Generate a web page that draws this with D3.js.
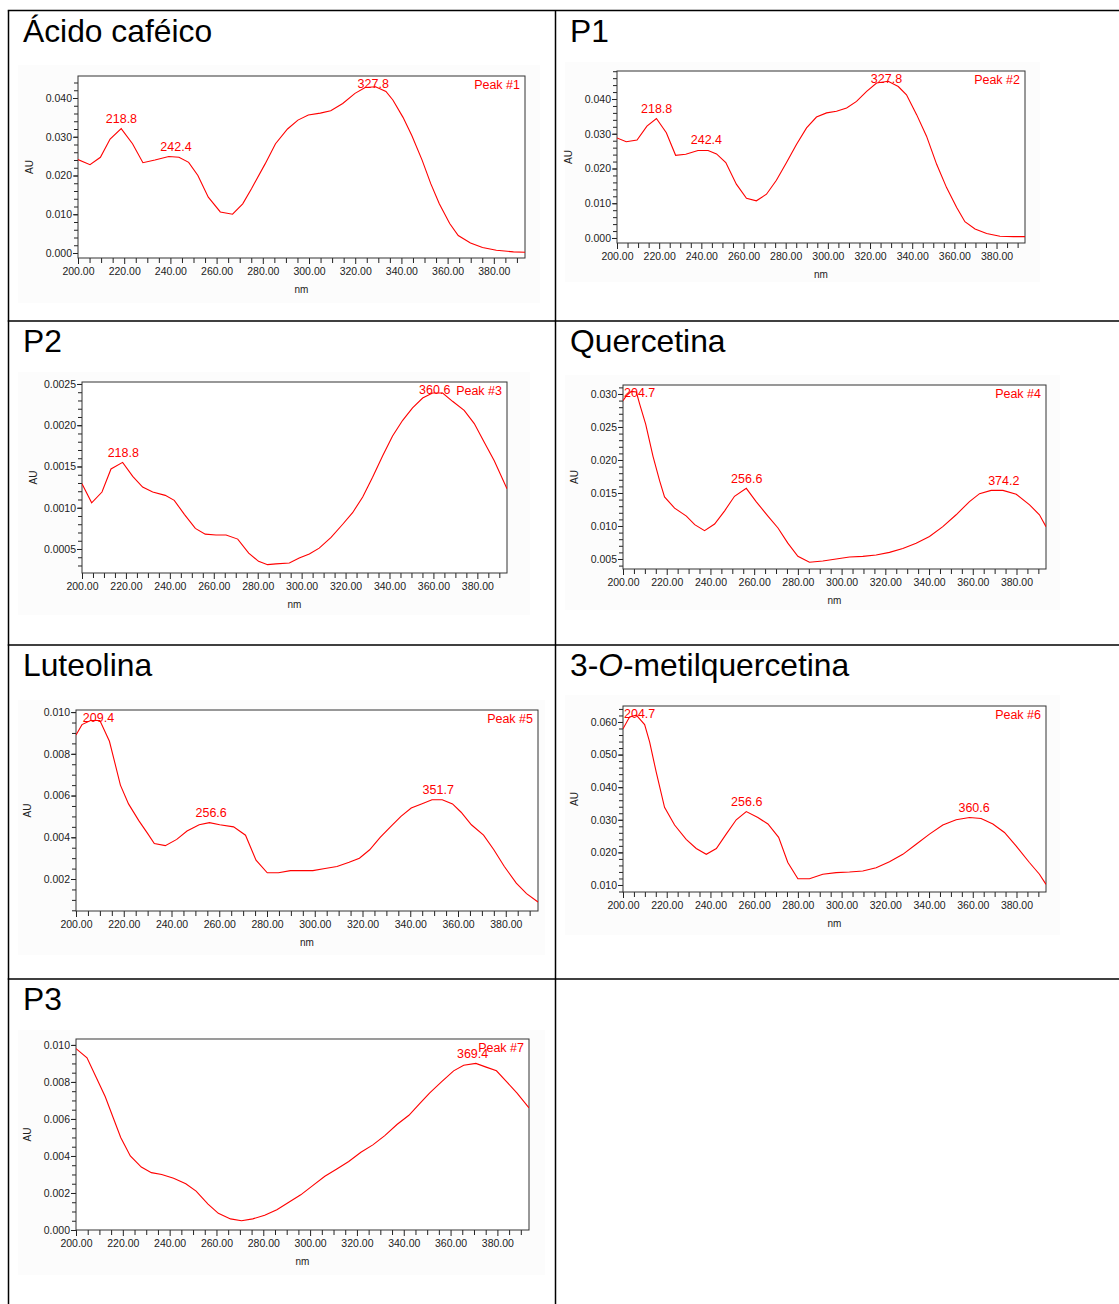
<!DOCTYPE html>
<html><head><meta charset="utf-8">
<script src="https://cdn.jsdelivr.net/npm/d3@7"></script>
<style>body{margin:0;background:#fff} svg{display:block}</style>
</head><body>
<script>
// ---------- DATA ----------
const xTicks = [200, 220, 240, 260, 280, 300, 320, 340, 360, 380];

const acidoCafeico = [[200,0.0241],[205.2,0.0228],[209.7,0.0247],[213.9,0.0294],[218.7,0.0321],[223.6,0.0282],[228.1,0.0233],[233.3,0.0240],[239.3,0.0249],[243.7,0.0247],[247.9,0.0234],[251.9,0.0200],[256.4,0.0144],[261.6,0.0106],[266.9,0.0100],[271.3,0.0127],[275.1,0.0166],[281,0.0230],[285.5,0.0282],[290.7,0.0320],[295.2,0.0343],[299.7,0.0356],[304.9,0.0361],[309.4,0.0367],[314.6,0.0386],[319.9,0.0412],[324.3,0.0427],[328.8,0.0429],[333.3,0.0417],[336.3,0.0395],[340.7,0.0350],[344.5,0.0303],[349,0.0239],[352.7,0.0179],[356.4,0.0127],[360.9,0.0076],[364.6,0.0045],[369.9,0.0026],[375.1,0.0014],[381.1,0.0007],[388.5,0.0003],[393.5,0.0002]];
const p1 = [[200,0.0288],[204.4,0.0277],[209.5,0.0282],[214.2,0.0322],[218.7,0.0344],[223.4,0.0303],[227.8,0.0238],[232.6,0.0241],[238.4,0.0252],[243.2,0.0252],[247.2,0.0242],[251.6,0.0217],[256.6,0.0155],[261.4,0.0114],[266.1,0.0107],[270.9,0.0126],[275.6,0.0166],[280.4,0.0217],[285.1,0.0269],[289.9,0.0317],[294.6,0.0348],[299.4,0.0360],[304.1,0.0365],[308.9,0.0374],[313.6,0.0393],[318.4,0.0422],[323.1,0.0446],[328.6,0.0451],[333.4,0.0436],[337.3,0.0412],[342.1,0.0355],[346.8,0.0293],[351.6,0.0212],[356.3,0.0145],[361.1,0.0088],[365,0.0047],[369.8,0.0026],[375.3,0.0013],[381.6,0.0005],[388,0.0004],[393.5,0.0004]];
const p2 = [[200,0.00129],[204.4,0.00106],[209.1,0.00119],[213.2,0.00147],[218.5,0.00155],[223.1,0.00138],[227.6,0.00125],[232.2,0.00119],[237.9,0.00115],[242,0.00109],[246.6,0.00092],[251.6,0.00075],[256.1,0.00068],[261,0.00067],[265.6,0.00067],[270.9,0.00062],[275.9,0.00045],[280.4,0.00035],[284.5,0.00031],[288.3,0.00032],[294.4,0.00033],[298.9,0.00039],[303.5,0.00044],[308,0.00051],[313.4,0.00064],[318.7,0.00080],[323.2,0.00094],[327.8,0.00113],[332.3,0.00137],[336.9,0.00163],[341.4,0.00187],[346,0.00206],[350.5,0.00221],[355.1,0.00233],[359.6,0.00239],[364.2,0.00239],[368.7,0.00229],[374,0.00218],[378.6,0.00202],[383.2,0.00179],[387.7,0.00157],[393.5,0.00123]];
const quercetina = [[200,0.0290],[201.5,0.0297],[203.8,0.0304],[206.1,0.0303],[207.6,0.0285],[210.4,0.0254],[213.7,0.0206],[216.8,0.0168],[219,0.0144],[223.6,0.0127],[229,0.0115],[232.8,0.0102],[237.3,0.0093],[241.9,0.0103],[246.5,0.0123],[251,0.0145],[256.4,0.0157],[260.9,0.0137],[266.3,0.0115],[270.9,0.0097],[275.4,0.0074],[280,0.0054],[285.3,0.0045],[291.4,0.0047],[297.5,0.0050],[303.6,0.0053],[309.7,0.0054],[315.8,0.0056],[321.9,0.0060],[328,0.0066],[334.1,0.0074],[340.2,0.0084],[346.3,0.0099],[352.4,0.0117],[358.5,0.0137],[363.1,0.0149],[368.4,0.0154],[373.8,0.0154],[379.9,0.0148],[386,0.0132],[390.5,0.0117],[393.5,0.0099]];
const luteolina = [[200,0.0089],[202.5,0.0094],[206.1,0.0096],[210,0.0096],[214,0.0086],[216.2,0.0076],[218.6,0.0065],[222,0.0056],[226.3,0.0048],[229.9,0.0042],[232.8,0.0037],[237.4,0.0036],[242.2,0.0039],[246.5,0.0043],[251.6,0.0046],[255.9,0.0047],[260.2,0.0046],[266,0.0045],[271,0.0041],[275.4,0.0029],[280.1,0.0023],[284.8,0.0023],[289.8,0.0024],[294.9,0.0024],[299.2,0.0024],[304.3,0.0025],[309.3,0.0026],[314.4,0.0028],[318.7,0.0030],[323,0.0034],[327.4,0.0040],[331.7,0.0045],[336.1,0.0050],[340.4,0.0054],[344.7,0.0056],[349.1,0.0058],[353.4,0.0058],[357.7,0.0056],[361.3,0.0052],[365.6,0.0046],[370.7,0.0041],[375,0.0034],[379.4,0.0026],[384.4,0.0018],[388.7,0.0013],[393.5,0.0009]];
const metilquercetina = [[200,0.0579],[203,0.0615],[206.1,0.0621],[209.9,0.0592],[212.2,0.0538],[215.2,0.0446],[219,0.0338],[223.6,0.0284],[228.9,0.0240],[233.5,0.0212],[238.1,0.0194],[242.7,0.0212],[247.2,0.0256],[251.8,0.0300],[256.4,0.0325],[261.7,0.0307],[266.3,0.0287],[271.2,0.0246],[275.4,0.0169],[280,0.0119],[285.3,0.0119],[291.4,0.0133],[297.5,0.0138],[303.6,0.0140],[309.7,0.0143],[315.8,0.0153],[321.9,0.0171],[328,0.0194],[334.1,0.0225],[340.2,0.0256],[346.3,0.0284],[352.4,0.0300],[358.5,0.0307],[363.8,0.0304],[369.2,0.0287],[374.5,0.0261],[379.8,0.0220],[385.9,0.0169],[390.5,0.0133],[393.5,0.0102]];
const p3 = [[200,0.0098],[204.7,0.0093],[208.8,0.0082],[212.5,0.0072],[216.1,0.0060],[219.1,0.0050],[223.2,0.0040],[227.9,0.0034],[232.2,0.0031],[236.6,0.0030],[241.7,0.0028],[246.9,0.0025],[251.3,0.0021],[256.4,0.0014],[260.8,0.0009],[266,0.0006],[270.7,0.0005],[275.5,0.0006],[280.6,0.0008],[285.8,0.0011],[290.9,0.0015],[296,0.0019],[301.1,0.0024],[306.3,0.0029],[311.4,0.0033],[316.5,0.0037],[321.7,0.0042],[326.8,0.0046],[331.9,0.0051],[337.1,0.0057],[342.2,0.0062],[346.6,0.0068],[351,0.0074],[356.1,0.0080],[361.3,0.0086],[365.6,0.0089],[370.8,0.0090],[375.2,0.0088],[379.6,0.0086],[384,0.0080],[388.4,0.0074],[393.5,0.0066]];

const peaksAcidoCafeico = [218.8, 242.4, 327.8];
const peaksP1 = [218.8, 242.4, 327.8];
const peaksP2 = [218.8, 360.6];
const peaksQuercetina = [204.7, 256.6, 374.2];
const peaksLuteolina = [209.4, 256.6, 351.7];
const peaksMetilquercetina = [204.7, 256.6, 360.6];
const peaksP3 = [369.4];

const ticksAcidoCafeico = [0.000, 0.010, 0.020, 0.030, 0.040];
const ticksP1 = [0.000, 0.010, 0.020, 0.030, 0.040];
const ticksP2 = [0.0005, 0.0010, 0.0015, 0.0020, 0.0025];
const ticksQuercetina = [0.005, 0.010, 0.015, 0.020, 0.025, 0.030];
const ticksLuteolina = [0.002, 0.004, 0.006, 0.008, 0.010];
const ticksMetilquercetina = [0.010, 0.020, 0.030, 0.040, 0.050, 0.060];
const ticksP3 = [0.000, 0.002, 0.004, 0.006, 0.008, 0.010];

const titles = ["Ácido caféico", "P1", "P2", "Quercetina", "Luteolina", "3-O-metilquercetina", "P3"];
const peakTags = ["Peak #1", "Peak #2", "Peak #3", "Peak #4", "Peak #5", "Peak #6", "Peak #7"];

// ---------- LAYOUT ----------
const W = 1119, H = 1304;
const colX = [8.5, 555.5];
const rowY = [10.5, 321, 645, 979];
const xDomain = [200, 393.5];

const panels = [
  {data: acidoCafeico, peaks: peaksAcidoCafeico, yt: ticksAcidoCafeico, dec: 3, minor: 5, col: 0, row: 0,
   box: {l: 78, r: 525, t: 76, b: 258}, yDom: [-0.00129, 0.04568], bg: [18, 65, 540, 303]},
  {data: p1, peaks: peaksP1, yt: ticksP1, dec: 3, minor: 5, col: 1, row: 0,
   box: {l: 617, r: 1025, t: 71, b: 243}, yDom: [-0.00144, 0.04806], bg: [565, 62, 1040, 282]},
  {data: p2, peaks: peaksP2, yt: ticksP2, dec: 4, minor: 5, col: 0, row: 1,
   box: {l: 82, r: 507, t: 382, b: 573}, yDom: [0.000209, 0.002524], bg: [18, 372, 530, 615]},
  {data: quercetina, peaks: peaksQuercetina, yt: ticksQuercetina, dec: 3, minor: 5, col: 1, row: 1,
   box: {l: 623, r: 1046, t: 385, b: 569}, yDom: [0.003485, 0.03136], bg: [565, 375, 1060, 610]},
  {data: luteolina, peaks: peaksLuteolina, yt: ticksLuteolina, dec: 3, minor: 4, col: 0, row: 2,
   box: {l: 76, r: 538, t: 710, b: 911}, yDom: [0.000467, 0.0101], bg: [18, 700, 545, 955]},
  {data: metilquercetina, peaks: peaksMetilquercetina, yt: ticksMetilquercetina, dec: 3, minor: 5, col: 1, row: 2,
   box: {l: 623, r: 1046, t: 706, b: 892}, yDom: [0.00785, 0.0649], bg: [565, 695, 1060, 935]},
  {data: p3, peaks: peaksP3, yt: ticksP3, dec: 3, minor: 4, col: 0, row: 3,
   box: {l: 76, r: 529, t: 1039, b: 1230}, yDom: [0, 0.01032], bg: [18, 1030, 545, 1275]}
];

const FONT = "'Liberation Sans', Arial, Helvetica, sans-serif";
const svg = d3.select("body").append("svg").attr("width", W).attr("height", H)
  .style("font-family", FONT);

// table grid
const grid = svg.append("g").attr("stroke", "#000").attr("stroke-width", 1.5).attr("fill", "none");
grid.append("line").attr("x1", colX[0]).attr("x2", colX[0]).attr("y1", rowY[0]).attr("y2", H);
grid.append("line").attr("x1", colX[1]).attr("x2", colX[1]).attr("y1", rowY[0]).attr("y2", H);
rowY.forEach(y => grid.append("line").attr("x1", colX[0] - 0.75).attr("x2", W).attr("y1", y).attr("y2", y));

const defs = svg.append("defs");

panels.forEach((p, i) => {
  const cx = colX[p.col], cy = rowY[p.row];
  // title
  const t = svg.append("text").attr("x", cx + 14.5).attr("y", cy + 31)
    .attr("font-size", 31.8).attr("fill", "#000");
  if (i === 5) {
    t.append("tspan").text("3-");
    t.append("tspan").attr("font-style", "italic").text("O");
    t.append("tspan").text("-metilquercetina");
  } else t.text(titles[i]);

  const g = svg.append("g");
  const b = p.box;
  // image background
  g.append("rect").attr("x", p.bg[0]).attr("y", p.bg[1]).attr("width", p.bg[2] - p.bg[0]).attr("height", p.bg[3] - p.bg[1])
    .attr("fill", "#fcfcfc");
  g.append("rect").attr("x", b.l).attr("y", b.t).attr("width", b.r - b.l).attr("height", b.b - b.t)
    .attr("fill", "#ffffff");

  const x = d3.scaleLinear().domain(xDomain).range([b.l, b.r]);
  const y = d3.scaleLinear().domain(p.yDom).range([b.b, b.t]);

  // minor ticks x
  const xMinor = d3.range(200, 393.5, 5).filter(v => v % 20 !== 0);
  g.append("g").attr("transform", `translate(0,${b.b})`)
    .call(d3.axisBottom(x).tickValues(xMinor).tickSize(5).tickFormat(""))
    .call(a => a.select(".domain").remove())
    .call(a => a.selectAll("line").attr("stroke", "#222"));
  g.append("g").attr("transform", `translate(0,${b.b})`)
    .call(d3.axisBottom(x).tickValues(xTicks).tickSize(6).tickPadding(4).tickFormat(d => d3.format(".2f")(d)))
    .call(a => a.select(".domain").remove())
    .call(a => a.selectAll("line").attr("stroke", "#222"))
    .call(a => a.selectAll("text").attr("font-size", 10.5).attr("fill", "#222").attr("font-family", FONT));

  // minor ticks y
  const step = (p.yt[1] - p.yt[0]) / p.minor;
  const yMinor = d3.range(Math.ceil(p.yDom[0] / step - 1e-6), Math.floor(p.yDom[1] / step + 1e-6) + 1)
    .map(k => k * step);
  g.append("g").attr("transform", `translate(${b.l},0)`)
    .call(d3.axisLeft(y).tickValues(yMinor).tickSize(4).tickFormat(""))
    .call(a => a.select(".domain").remove())
    .call(a => a.selectAll("line").attr("stroke", "#222"));
  g.append("g").attr("transform", `translate(${b.l},0)`)
    .call(d3.axisLeft(y).tickValues(p.yt).tickSize(5).tickPadding(1).tickFormat(d => d3.format("." + p.dec + "f")(d)))
    .call(a => a.select(".domain").remove())
    .call(a => a.selectAll("line").attr("stroke", "#222"))
    .call(a => a.selectAll("text").attr("font-size", 10.5).attr("fill", "#222").attr("font-family", FONT));

  // box
  g.append("rect").attr("x", b.l).attr("y", b.t).attr("width", b.r - b.l).attr("height", b.b - b.t)
    .attr("fill", "none").attr("stroke", "#333").attr("stroke-width", 1);

  // axis titles
  g.append("text").attr("x", (b.l + b.r) / 2).attr("y", b.b + 35).attr("text-anchor", "middle")
    .attr("font-size", 10).attr("fill", "#222").text("nm");
  g.append("text").attr("transform", `translate(${b.l - 45},${(b.t + b.b) / 2}) rotate(-90)`)
    .attr("text-anchor", "middle").attr("font-size", 10).attr("fill", "#222").text("AU");

  // curve
  const cid = "clip" + i;
  defs.append("clipPath").attr("id", cid).append("rect")
    .attr("x", b.l).attr("y", b.t).attr("width", b.r - b.l).attr("height", b.b - b.t);
  g.append("path").datum(p.data).attr("clip-path", `url(#${cid})`)
    .attr("fill", "none").attr("stroke", "#ff0000").attr("stroke-width", 1.1)
    .attr("d", d3.line().x(d => x(d[0])).y(d => y(d[1])));

  // peak labels
  const interp = nm => {
    const arr = p.data;
    for (let k = 0; k < arr.length - 1; k++) {
      if (nm >= arr[k][0] && nm <= arr[k + 1][0]) {
        const f = (nm - arr[k][0]) / (arr[k + 1][0] - arr[k][0]);
        return arr[k][1] + f * (arr[k + 1][1] - arr[k][1]);
      }
    }
    return arr[arr.length - 1][1];
  };
  p.peaks.forEach(pk => {
    const tx = g.append("text").attr("font-size", 12.5).attr("fill", "#ff0000").attr("text-anchor", "middle")
      .text(pk.toFixed(1));
    const w = tx.node().getComputedTextLength();
    let px = x(pk);
    px = Math.max(px, b.l + w / 2 + 1);
    const py = Math.max(y(interp(pk)) - 6, b.t + 12);
    tx.attr("x", px).attr("y", py);
  });
  g.append("text").attr("x", b.r - 5).attr("y", b.t + 13).attr("text-anchor", "end")
    .attr("font-size", 12.5).attr("fill", "#ff0000").text(peakTags[i]);
});
</script>
</body></html>
